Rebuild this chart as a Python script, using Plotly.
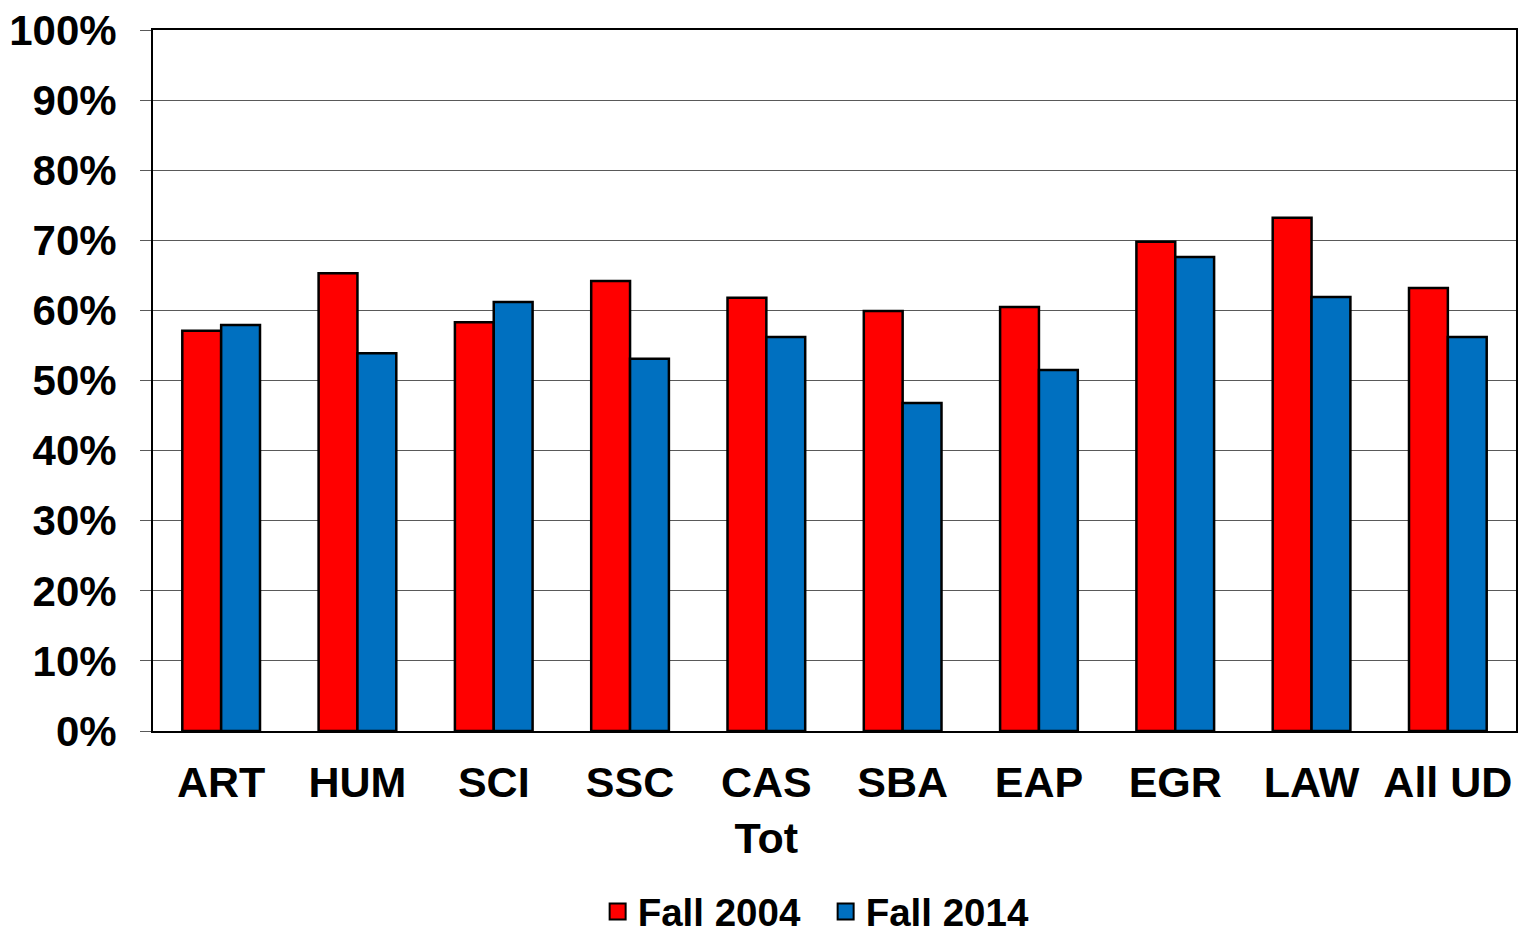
import plotly.graph_objects as go

categories = ["ART", "HUM", "SCI", "SSC", "CAS<br>Tot", "SBA", "EAP", "EGR", "LAW", "All UD"]
fall_2004 = [0.571, 0.653, 0.583, 0.642, 0.618, 0.599, 0.605, 0.698, 0.732, 0.632]
fall_2014 = [0.579, 0.539, 0.612, 0.531, 0.562, 0.468, 0.515, 0.676, 0.619, 0.562]
series_names = ["Fall 2004", "Fall 2014"]
series_colors = ["#FF0000", "#0070C0"]
y_ticks = [0, 0.1, 0.2, 0.3, 0.4, 0.5, 0.6, 0.7, 0.8, 0.9, 1.0]

FONT = "Liberation Sans, Arial, sans-serif"

fig = go.Figure()
for name, vals, col in zip(series_names, [fall_2004, fall_2014], series_colors):
    fig.add_trace(go.Bar(name=name, x=categories, y=vals, showlegend=False,
                         marker=dict(color=col, line=dict(color="black", width=2.5))))
# legend entries with larger square symbols
for name, col in zip(series_names, series_colors):
    fig.add_trace(go.Scatter(name=name, x=[None], y=[None], mode="markers",
                             marker=dict(symbol="square", size=16, color=col,
                                         line=dict(color="black", width=2))))

fig.update_layout(
    width=1518, height=936,
    margin=dict(l=153, r=2, t=30, b=205, autoexpand=False),
    paper_bgcolor="white", plot_bgcolor="white",
    barmode="group", bargap=0.43, bargroupgap=0,
    font=dict(family=FONT, color="black", size=40),
    showlegend=True,
    legend=dict(orientation="h", x=0.4935, xanchor="center", y=-0.258, yanchor="middle",
                font=dict(size=38.5, family=FONT, weight="bold"), itemwidth=30,
                entrywidth=183, traceorder="normal"),
)
fig.update_yaxes(
    range=[0, 1.0], tickvals=y_ticks, tickformat=".0%",
    showgrid=True, gridcolor="#595959", gridwidth=1,
    ticks="outside", ticklen=11, tickcolor="#595959", tickwidth=1,
    ticklabelstandoff=15, automargin=False,
    tickfont=dict(size=42, family=FONT, weight="bold", color="black"),
    showline=True, linecolor="black", linewidth=2, mirror=True, zeroline=False,
)
fig.update_xaxes(
    showline=True, linecolor="black", linewidth=2, mirror=True,
    ticks="", ticklabelstandoff=12, automargin=False,
    tickfont=dict(size=43, family=FONT, weight="bold", color="black"),
)

fig.write_html("out.html", config={"displayModeBar": False},
               post_script="document.body.style.margin='0';document.body.style.overflow='hidden';")
